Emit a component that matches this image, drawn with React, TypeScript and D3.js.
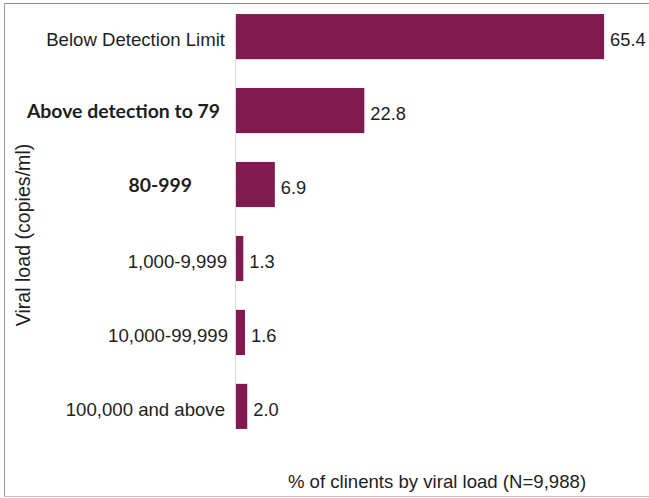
import React from "react";
import * as d3 from "d3";

// Viral load categories (top to bottom) and share of clients in each
const categories = [
  "Below Detection Limit",
  "Above detection to 79",
  "80-999",
  "1,000-9,999",
  "10,000-99,999",
  "100,000 and above",
];
const percents = [65.4, 22.8, 6.9, 1.3, 1.6, 2.0];
const emphasized = [false, true, true, false, false, false];

const xTitle = "% of clinents by viral load (N=9,988)";
const yTitle = "Viral load (copies/ml)";

const W = 649;
const H = 498;
const BAR = "#801a50";
const INK = "#1e1e1e";
const SANS = "'Liberation Sans', Arial, sans-serif";
const BOLD = "Lato, 'Open Sans', sans-serif";

// right edge of each row's label
const labelEnd = [225, 220, 192, 227, 228, 225];

export default function App() {
  const x = d3.scaleLinear().domain([0, 70]).range([236, 630]);
  const y = d3
    .scaleBand<string>()
    .domain(categories)
    .range([0, 443])
    .paddingInner(0.39)
    .paddingOuter(0.19);

  const rows = categories.map((c, i) => ({
    c,
    v: percents[i],
    bold: emphasized[i],
    end: labelEnd[i],
  }));
  const first = y(categories[0])!;
  const last = y(categories[categories.length - 1])! + y.bandwidth();

  return (
    <svg
      width={W}
      height={H}
      viewBox={`0 0 ${W} ${H}`}
      style={{ position: "absolute", left: 0, top: 0, background: "#fff" }}
    >
      <rect x={0} y={0} width={W} height={H} fill="#fff" />
      {/* frame */}
      <line x1={4.5} x2={W} y1={3.5} y2={3.5} stroke="#8c8c8c" strokeWidth={1} />
      <line x1={4.5} x2={4.5} y1={3.5} y2={496.5} stroke="#9a9a9a" strokeWidth={1} />
      <line x1={4.5} x2={W} y1={496.5} y2={496.5} stroke="#bdbdbd" strokeWidth={1} />

      {/* category axis */}
      <line
        x1={x(0) - 0.5}
        x2={x(0) - 0.5}
        y1={first}
        y2={last}
        stroke="#d9d9d9"
        strokeWidth={1}
      />

      {rows.map((r) => {
        const y0 = y(r.c)!;
        const cy = y0 + y.bandwidth() / 2;
        return (
          <g key={r.c}>
            <rect
              x={x(0)}
              y={y0}
              width={x(r.v) - x(0)}
              height={y.bandwidth()}
              fill={BAR}
            />
            <text
              x={x(r.v) + 6}
              y={cy}
              dy="0.52em"
              fontFamily={SANS}
              fontSize={18.3}
              fill={INK}
            >
              {r.v.toFixed(1)}
            </text>
            {r.bold ? (
              <text
                x={r.end}
                y={cy}
                dy="0.36em"
                textAnchor="end"
                fontFamily={BOLD}
                fontWeight={700}
                fontSize={19.4}
                fill={INK}
              >
                {r.c}
              </text>
            ) : (
              <text
                x={r.end}
                y={cy}
                dy="0.52em"
                textAnchor="end"
                fontFamily={SANS}
                fontSize={18.6}
                fill={INK}
              >
                {r.c}
              </text>
            )}
          </g>
        );
      })}

      <text
        x={437}
        y={488}
        textAnchor="middle"
        fontFamily={SANS}
        fontSize={18.6}
        fill={INK}
      >
        {xTitle}
      </text>
      <text
        transform={`translate(30,235) rotate(-90)`}
        textAnchor="middle"
        fontFamily={SANS}
        fontSize={19.6}
        fill={INK}
      >
        {yTitle}
      </text>
    </svg>
  );
}
